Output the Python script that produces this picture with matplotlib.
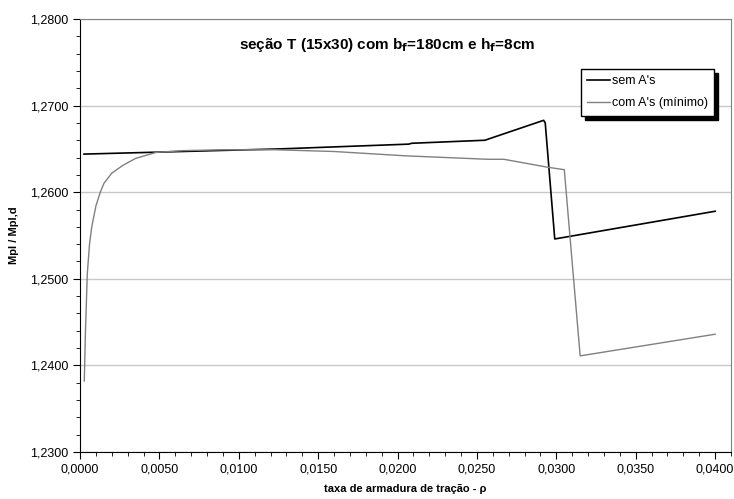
import matplotlib.pyplot as plt
from matplotlib.ticker import MultipleLocator, FuncFormatter
from matplotlib.patches import Rectangle

plt.rcParams['font.family'] = ['Liberation Sans', 'DejaVu Sans']

# sem A's
rho_sem = [0.00025, 0.0126, 0.0207, 0.0209, 0.0255, 0.0292, 0.0293, 0.0299, 0.0400]
m_sem = [1.2644, 1.2650, 1.26555, 1.26565, 1.2660, 1.2683, 1.2680, 1.2546, 1.2578]

# com A's (minimo)
rho_com = [0.00027, 0.00034, 0.00046, 0.0006, 0.00074, 0.001, 0.00126, 0.0015, 0.002,
           0.0027, 0.0035, 0.0048, 0.0065, 0.009, 0.0123, 0.016, 0.0205, 0.0257,
           0.0267, 0.0294, 0.0305, 0.0315, 0.0400]
m_com = [1.2382, 1.2437, 1.2506, 1.2540, 1.2560, 1.2584, 1.2599, 1.2610, 1.2622,
         1.2631, 1.2639, 1.2646, 1.2648, 1.2649, 1.2649, 1.2647, 1.2642, 1.2638,
         1.2638, 1.2629, 1.2626, 1.2411, 1.2436]

fig = plt.figure(figsize=(7.34, 4.99), dpi=100)
ax = fig.add_axes([80/734, 47/499, 651/734, 433/499])

ax.plot(rho_sem, m_sem, color='black', lw=1.2, label="sem A's")
ax.plot(rho_com, m_com, color='#808080', lw=1.0, label="com A's (mínimo)")

ax.set_xlim(0, 0.041)
ax.set_ylim(1.23, 1.28)
ax.xaxis.set_major_locator(MultipleLocator(0.005))
ax.xaxis.set_minor_locator(MultipleLocator(0.001))
ax.yaxis.set_major_locator(MultipleLocator(0.01))
ax.yaxis.set_minor_locator(MultipleLocator(0.002))
fmt = FuncFormatter(lambda v, p: f"{v:.4f}".replace('.', ','))
ax.xaxis.set_major_formatter(fmt)
ax.yaxis.set_major_formatter(fmt)
ax.tick_params(which='both', direction='out', labelsize=9, color='black')
ax.tick_params(which='major', length=5)
ax.tick_params(which='minor', length=3)
ax.grid(axis='y', which='major', color='#c8c8c8', lw=1)
ax.set_axisbelow(True)
for s in ['top', 'right']:
    ax.spines[s].set_color('#808080')
for s in ['left', 'bottom']:
    ax.spines[s].set_color('black')

ax.set_ylabel('Mpl / Mpl,d', fontsize=8, fontweight='bold', labelpad=8)
ax.set_xlabel('taxa de armadura de tração - ρ', fontsize=8, fontweight='bold', labelpad=6)

fig.text(387/734, 1 - 45/499, 'seção T (15x30) com b$_\\mathbf{f}$=180cm e h$_\\mathbf{f}$=8cm',
         ha='center', va='center', fontsize=11, fontweight='bold')

leg = ax.legend(loc='upper left', bbox_to_anchor=((581 - 80)/651, (452 - 69)/433),
                fontsize=9, frameon=True, fancybox=False, shadow=False, framealpha=1,
                handlelength=1.8, handletextpad=0.15, borderpad=0.5, labelspacing=0.8,
                borderaxespad=0)
leg.get_frame().set_edgecolor('black')
leg.get_frame().set_facecolor('white')
leg.get_frame().set_linewidth(1.0)
leg.set_zorder(10)
fig.canvas.draw()
bb = leg.get_window_extent().transformed(fig.transFigure.inverted())
ax.add_patch(Rectangle((bb.x0 + 4/734, bb.y0 - 4/499), bb.width, bb.height,
                       transform=fig.transFigure, color='black', zorder=9, clip_on=False))

fig.savefig('out.png', dpi=100)
